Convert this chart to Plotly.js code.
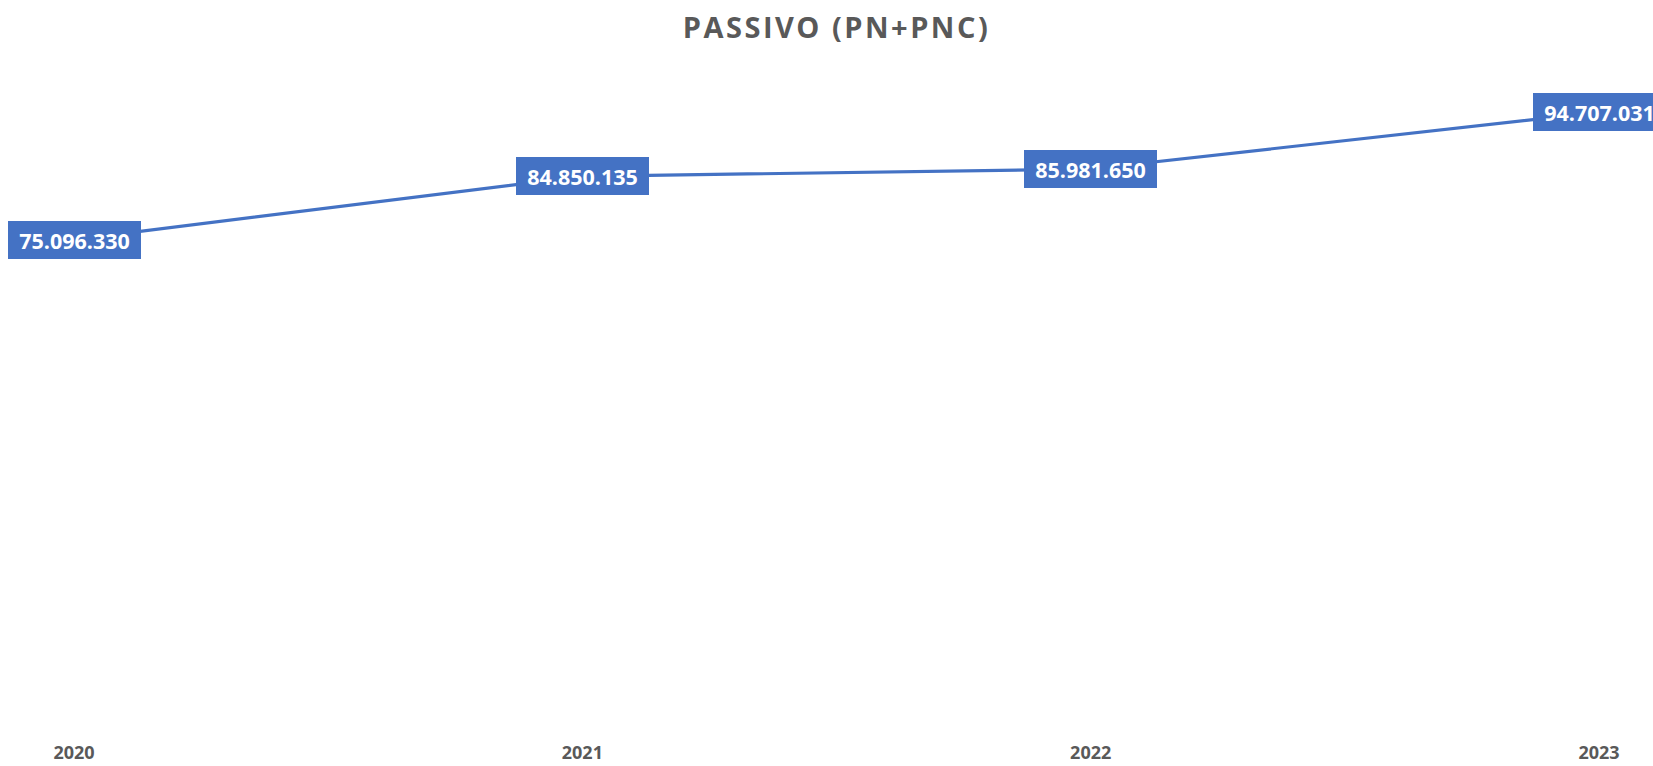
<!DOCTYPE html>
<html>
<head>
<meta charset="utf-8">
<script src="https://cdn.plot.ly/plotly-3.0.1.min.js"></script>
<style>html,body{margin:0;padding:0;background:#fff;}#chart{width:1653px;height:766px;}
.gtitle{letter-spacing:2.5px;}</style>
</head>
<body>
<div id="chart"></div>
<script>
const years = ["2020", "2021", "2022", "2023"];
const passivo = [75096330, 84850135, 85981650, 94707031];
const chartTitle = "PASSIVO (PN+PNC)";

function fmt(v) {
  return String(v).replace(/\B(?=(\d{3})+(?!\d))/g, ".");
}

const FONT = "Open Sans, Liberation Sans, sans-serif";

const annotations = years.map((y, i) => ({
  x: i, y: passivo[i], xref: "x", yref: "y",
  text: "<b>" + fmt(passivo[i]) + "</b>",
  showarrow: false,
  bgcolor: "#4472C4",
  borderpad: 0, borderwidth: 0,
  width: 133, height: 38,
  font: {family: FONT, size: 21.5, color: "#ffffff"},
  xanchor: "center", yanchor: "middle"
}));

const trace = {
  x: years, y: passivo, type: "scatter", mode: "lines",
  line: {color: "#4472C4", width: 3.2},
  hoverinfo: "skip"
};

const layout = {
  width: 1653, height: 766,
  margin: {l: 74, r: 54, t: 78, b: 39},
  paper_bgcolor: "#ffffff", plot_bgcolor: "#ffffff",
  showlegend: false,
  title: {
    text: "<b>" + chartTitle + "</b>",
    font: {family: FONT, size: 29, color: "#595959"},
    x: 0.5, xref: "paper", xanchor: "center",
    y: 1 - 28 / 766, yref: "container", yanchor: "middle"
  },
  xaxis: {
    type: "category", range: [0, 3],
    showgrid: false, zeroline: false, showline: false, ticks: "",
    tickfont: {family: FONT, size: 18, color: "#595959", weight: "bold"},
    ticklabelstandoff: 13,
    fixedrange: true
  },
  yaxis: {
    range: [0, 100000000],
    showgrid: false, zeroline: false, showline: false, showticklabels: false, ticks: "",
    fixedrange: true
  },
  annotations: annotations
};

Plotly.newPlot("chart", [trace], layout, {displayModeBar: false});
</script>
</body>
</html>
